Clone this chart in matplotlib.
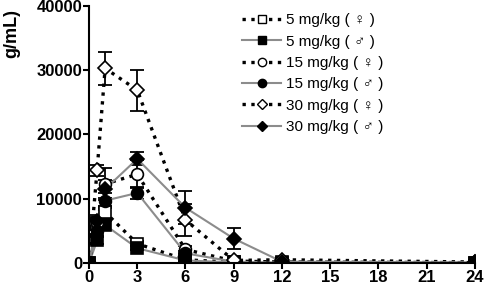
import numpy as np
import matplotlib.pyplot as plt
from matplotlib.lines import Line2D

# time points (h)
t = [0, 0.5, 1, 3, 6, 9, 12, 24]

f5 = [0, 6000, 7900, 3000, 500, 100, 100, 0]
f5_err = [0, 800, 900, 400, 150, 50, 0, 0]
m5 = [0, 3500, 5900, 2300, 400, 80, 0, 0]
m5_err = [0, 500, 700, 300, 100, 30, 0, 0]
f15 = [0, 6300, 12300, 13800, 2100, 300, 150, 50]
f15_err = [0, 900, 2500, 2200, 500, 100, 20, 0]
m15 = [0, 5000, 9700, 10900, 1500, 200, 50, 0]
m15_err = [0, 800, 1200, 900, 400, 80, 20, 0]
f30 = [0, 14400, 30300, 26900, 6700, 400, 500, 150]
f30_err = [0, 900, 2600, 3200, 2500, 150, 100, 300]
m30 = [0, 6500, 11500, 16200, 8600, 3800, 200, 100]
m30_err = [0, 900, 1400, 1000, 2600, 1700, 100, 50]

labels = ["5 mg/kg ( \u2640 )", "5 mg/kg ( \u2642 )", "15 mg/kg ( \u2640 )",
          "15 mg/kg ( \u2642 )", "30 mg/kg ( \u2640 )", "30 mg/kg ( \u2642 )"]

series = [
    (f5, f5_err, 's', 'white', ':', 'black'),
    (m5, m5_err, 's', 'black', '-', '#8c8c8c'),
    (f15, f15_err, 'o', 'white', ':', 'black'),
    (m15, m15_err, 'o', 'black', '-', '#8c8c8c'),
    (f30, f30_err, 'D', 'white', ':', 'black'),
    (m30, m30_err, 'D', 'black', '-', '#8c8c8c'),
]

plt.rcParams['font.family'] = ['Liberation Sans', 'DejaVu Sans']

fig = plt.figure(figsize=(4.84, 2.84), dpi=100)
ax = fig.add_axes([0.184, 0.074, 0.797, 0.905])

handles = []
for i, (y, e, mk, fc, ls, lc) in enumerate(series):
    lw = 2.4 if ls == ':' else 1.5
    ms = 7.5 if mk == 'D' else 8.5
    ax.errorbar(t, y, yerr=e, fmt='none', ecolor='black', elinewidth=1.3,
                capsize=5, capthick=1.3, zorder=2)
    ax.plot(t, y, linestyle=ls, color=lc, linewidth=lw, zorder=3)
    ax.plot(t, y, linestyle='none', marker=mk, markersize=ms, markerfacecolor=fc,
            markeredgecolor='black', markeredgewidth=1.2, zorder=4)
    handles.append(Line2D([0], [0], linestyle=ls, color=lc, linewidth=lw, marker=mk,
                          markersize=6 if mk != 'D' else 5.5, markerfacecolor=fc,
                          markeredgecolor='black', markeredgewidth=1.0))

ax.set_xlim(0, 24)
ax.set_ylim(0, 40000)
ax.set_xticks(np.arange(0, 25, 3))
ax.set_yticks(np.arange(0, 40001, 10000))
for s in ['top', 'right']:
    ax.spines[s].set_visible(False)
for s in ['left', 'bottom']:
    ax.spines[s].set_linewidth(1.5)
    ax.spines[s].set_zorder(5)
ax.tick_params(width=1.5, length=4, labelsize=12, pad=1)
for lab in ax.get_xticklabels() + ax.get_yticklabels():
    lab.set_fontweight('bold')

leg = ax.legend(handles, labels, loc='upper left', bbox_to_anchor=(0.38, 0.995),
                frameon=False, fontsize=11, handlelength=2.6, handletextpad=0.3,
                labelspacing=0.48, borderaxespad=0)

fig.text(0.025, 0.795, "g/mL)", rotation=90, ha='center', va='bottom',
         fontsize=13, fontweight='bold')

fig.savefig("out.png", dpi=100)
